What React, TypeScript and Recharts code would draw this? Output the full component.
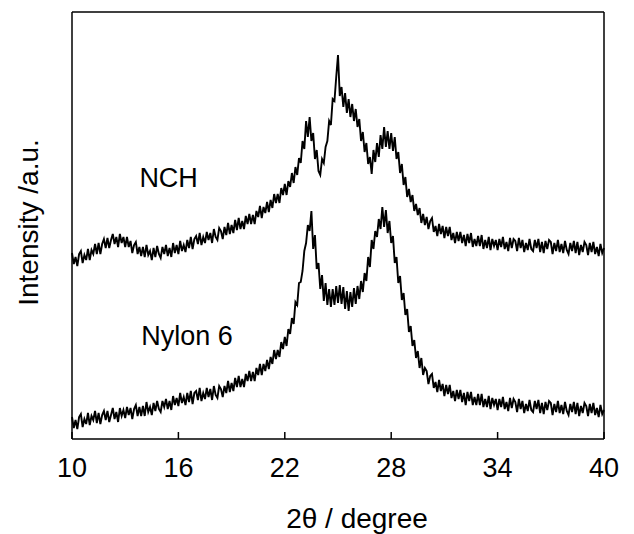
import React from 'react';
import { LineChart, Line, XAxis, YAxis, ReferenceDot } from 'recharts';

// 2θ scan: 10° to 40° in 0.1° steps
const START = 10;
const STEP = 0.1;

// NCH intensity (a.u.), one row per degree
const nch = [
  186, 175, 182, 173, 185, 188, 176, 184, 179, 190,
  179, 189, 185, 195, 185, 196, 185, 195, 200, 191,
  201, 191, 199, 205, 195, 202, 192, 205, 196, 202,
  192, 202, 192, 198, 186, 194, 197, 185, 192, 183,
  192, 182, 194, 184, 188, 179, 191, 182, 193, 185,
  181, 192, 185, 194, 183, 191, 182, 196, 186, 194,
  185, 198, 188, 194, 187, 199, 191, 202, 190, 200,
  203, 195, 206, 194, 202, 196, 207, 199, 206, 196,
  210, 202, 199, 211, 208, 200, 212, 204, 216, 205,
  214, 206, 219, 209, 221, 210, 218, 210, 223, 215,
  225, 215, 224, 215, 228, 222, 233, 221, 232, 226,
  237, 227, 239, 231, 245, 236, 245, 236, 251, 244,
  255, 244, 258, 252, 266, 256, 272, 264, 281, 276,
  298, 290, 318, 302, 322, 298, 306, 280, 289, 268,
  264, 280, 276, 292, 298, 318, 314, 340, 338, 362,
  384, 343, 352, 332, 346, 326, 340, 322, 335, 318,
  330, 312, 320, 298, 307, 287, 296, 275, 282, 265,
  289, 277, 296, 282, 304, 290, 312, 292, 308, 290,
  306, 288, 302, 280, 287, 266, 275, 254, 262, 242,
  250, 237, 244, 228, 235, 224, 231, 216, 225, 214,
  222, 210, 218, 221, 207, 213, 203, 215, 205, 213,
  201, 212, 203, 212, 199, 206, 196, 207, 198, 207,
  196, 204, 193, 205, 196, 206, 192, 200, 193, 203,
  193, 204, 190, 199, 191, 202, 189, 200, 193, 199,
  189, 200, 192, 202, 190, 197, 188, 201, 191, 200,
  198, 188, 201, 191, 199, 187, 196, 189, 200, 190,
  188, 199, 191, 200, 187, 197, 186, 198, 190, 199,
  197, 185, 196, 188, 199, 187, 195, 186, 198, 189,
  185, 196, 188, 198, 186, 197, 184, 194, 187, 197,
  194, 184, 196, 187, 197, 185, 192, 183, 195, 186,
  191,
];

// Nylon 6 intensity (a.u.)
const nylon = [
  22, 11, 19, 10, 22, 25, 12, 20, 15, 26,
  14, 23, 19, 28, 16, 26, 15, 24, 28, 19,
  28, 17, 24, 31, 20, 27, 17, 31, 23, 29,
  21, 32, 24, 31, 20, 30, 34, 23, 32, 23,
  33, 23, 37, 27, 32, 24, 36, 28, 38, 30,
  27, 38, 32, 40, 30, 38, 29, 43, 34, 41,
  33, 46, 36, 42, 34, 46, 37, 48, 35, 46,
  48, 39, 51, 38, 46, 40, 51, 42, 50, 39,
  53, 44, 41, 53, 50, 42, 53, 46, 58, 47,
  56, 48, 61, 52, 63, 52, 60, 52, 65, 58,
  68, 58, 67, 58, 71, 64, 75, 64, 75, 68,
  79, 70, 82, 75, 89, 80, 89, 82, 97, 90,
  102, 93, 110, 105, 121, 115, 137, 134, 156, 157,
  168, 188, 196, 214, 208, 228, 190, 204, 170, 176,
  150, 164, 138, 156, 134, 150, 132, 150, 134, 153,
  136, 154, 135, 152, 130, 148, 128, 147, 132, 151,
  135, 153, 140, 158, 147, 166, 158, 182, 172, 199,
  190, 208, 202, 220, 210, 232, 212, 229, 206, 218,
  196, 203, 176, 182, 156, 163, 139, 146, 124, 130,
  107, 113, 93, 99, 81, 88, 71, 81, 64, 71,
  68, 55, 63, 65, 51, 57, 47, 59, 48, 55,
  43, 54, 45, 54, 41, 48, 38, 49, 40, 49,
  37, 46, 34, 47, 38, 47, 34, 42, 34, 45,
  34, 45, 32, 40, 32, 43, 30, 41, 34, 40,
  29, 40, 32, 42, 30, 37, 28, 41, 31, 40,
  37, 27, 40, 30, 38, 26, 35, 28, 39, 29,
  27, 38, 30, 39, 26, 36, 25, 37, 29, 38,
  36, 24, 35, 27, 38, 26, 34, 25, 37, 28,
  24, 35, 27, 37, 25, 36, 23, 33, 26, 36,
  33, 23, 35, 26, 36, 24, 31, 22, 34, 25,
  29,
];

const xTicks = [10, 16, 22, 28, 34, 40];

const data = nch.map((v, i) => ({
  x: +(START + i * STEP).toFixed(1),
  nch: v,
  nylon: nylon[i],
}));

const FONT = '"Liberation Sans", Arial, Helvetica, sans-serif';
const axisStyle = { stroke: '#000', strokeWidth: 1.5 };

const BottomTick = (props: any) => {
  const { x, y, payload } = props;
  return (
    <g>
      <line x1={x} y1={y} x2={x} y2={y - 7} stroke="#000" strokeWidth={1.5} />
      <text x={x} y={y + 38} textAnchor="middle" fontSize={27} fontFamily={FONT} fill="#000">
        {payload.value}
      </text>
    </g>
  );
};

const note = (text: string) => (props: any) => {
  const { viewBox } = props;
  return (
    <text x={viewBox.x} y={viewBox.y} fontSize={27} fontFamily={FONT} fill="#000">
      {text}
    </text>
  );
};

const App: React.FC = () => {
  return (
    <div style={{ position: 'absolute', left: 0, top: 0, background: '#fff' }}>
      <LineChart width={634} height={534} data={data} margin={{ top: 11, right: 29, bottom: 0, left: 0 }}>
        <XAxis
          dataKey="x"
          type="number"
          domain={[10, 40]}
          ticks={xTicks}
          height={95}
          tickSize={0}
          tickMargin={0}
          tickLine={false}
          tick={<BottomTick />}
          axisLine={axisStyle}
          label={{ value: '2θ / degree', position: 'insideBottom', offset: 6, dx: 19, fontSize: 28, fontFamily: FONT, fill: '#000' }}
        />
        <XAxis xAxisId="top" dataKey="x" type="number" domain={[10, 40]} orientation="top" height={1} tick={false} tickLine={false} axisLine={axisStyle} />
        <YAxis
          yAxisId="l"
          type="number"
          domain={[0, 427]}
          width={72}
          tick={false}
          tickLine={false}
          axisLine={axisStyle}
          label={{ value: 'Intensity /a.u.', angle: -90, position: 'insideLeft', offset: 28, dy: -3, fontSize: 28, fontFamily: FONT, fill: '#000', style: { textAnchor: 'middle' } }}
        />
        <YAxis yAxisId="r" orientation="right" type="number" domain={[0, 427]} width={1} tick={false} tickLine={false} axisLine={axisStyle} />
        <Line yAxisId="l" type="linear" dataKey="nch" stroke="#000" strokeWidth={1.9} dot={false} isAnimationActive={false} />
        <Line yAxisId="l" type="linear" dataKey="nylon" stroke="#000" strokeWidth={1.9} dot={false} isAnimationActive={false} />
        <ReferenceDot yAxisId="l" x={13.8} y={252} r={0} fill="none" stroke="none" label={note('NCH')} />
        <ReferenceDot yAxisId="l" x={13.9} y={94} r={0} fill="none" stroke="none" label={note('Nylon 6')} />
      </LineChart>
    </div>
  );
};

export default App;
